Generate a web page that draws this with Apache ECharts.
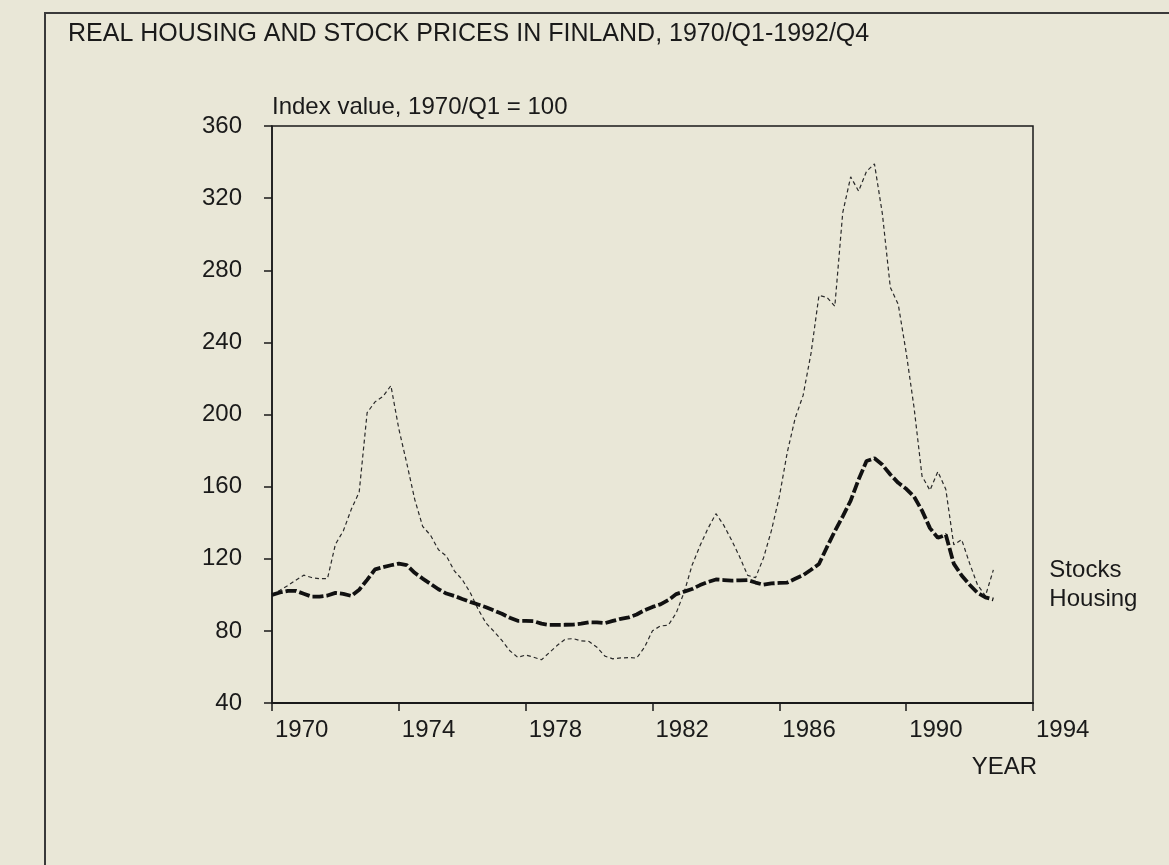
<!DOCTYPE html>
<html>
<head>
<meta charset="utf-8">
<title>Real housing and stock prices in Finland</title>
<script src="https://cdn.jsdelivr.net/npm/echarts@6/dist/echarts.min.js"></script>
<style>
  html, body { margin: 0; padding: 0; background: #e9e7d7; }
  #chart { width: 1169px; height: 865px; }
</style>
</head>
<body>
<div id="chart"></div>
<script>
// quarterly series, 1970/Q1 .. 1992/Q4 (index, 1970/Q1 = 100)
var startYear = 1970;
var yearTicks = [1970, 1974, 1978, 1982, 1986, 1990, 1994];
var valueTicks = [40, 80, 120, 160, 200, 240, 280, 320, 360];

var stocks = [
  100, 102.5, 105.1, 108.1, 110.9, 109.6, 108.9, 109, 128, 135.5,
  147.4, 157, 201, 207, 210, 216, 192, 173, 153, 138,
  133, 125, 121.5, 113.3, 108.4, 101.3, 92, 84.3, 79.7, 74.7,
  69, 65.3, 66.6, 65.4, 64, 68, 72, 75.4, 75.7, 74.5,
  74.1, 70.9, 66, 64.5, 65, 65.2, 64.9, 71, 80.1, 82.7,
  83.2, 90, 101.5, 116.5, 127.3, 136.8, 145, 138.5, 130.1, 121,
  110.8, 109.5, 120.4, 135.6, 154.4, 179, 198, 210.6, 234, 266,
  265, 260, 312, 331.8, 323.9, 334.9, 339, 311.3, 270.5, 261.1,
  234.4, 203.7, 165.8, 158, 168.3, 158.5, 127.8, 130.6, 117.5, 105.5,
  99.4, 113.8
];

var housing = [
  100, 101.3, 102.2, 102.2, 100.6, 99, 99, 99.6, 101.1, 100.5,
  99.4, 102.8, 108.3, 114.1, 115.3, 116.4, 117.3, 116.5, 112.2, 109,
  106.1, 103.1, 100.7, 99.4, 97.7, 96.1, 94.6, 93.1, 91.3, 89.5,
  87.3, 85.6, 85.6, 85.4, 84, 83.3, 83.3, 83.4, 83.5, 84,
  84.8, 84.7, 84.3, 85.5, 86.7, 87.5, 89.1, 91.5, 93.3, 94.7,
  97.1, 100.4, 101.8, 103.2, 105.4, 107.1, 108.5, 108.2, 107.9, 108,
  108.2, 106.8, 105.6, 106.3, 106.6, 106.8, 108.9, 110.9, 113.9, 117.1,
  126.4, 135.3, 143.5, 152.2, 164, 174.2, 175.7, 172.1, 166.7, 162.1,
  158.8, 154.4, 146.7, 137, 131.6, 133.3, 117.3, 110.7, 105.6, 101.1,
  98.6, 97.4
];

// pair each value with its quarter (year + (q-1)/4)
function toPoints(values) {
  return values.map(function (v, i) { return [startYear + i / 4, v]; });
}

var ink = '#1a1a1a';
var font = '"Liberation Sans", Arial, sans-serif';

var myChart = echarts.init(document.getElementById('chart'));

var option = {
  backgroundColor: '#e9e7d7',
  animation: false,
  title: {
    text: 'REAL HOUSING AND STOCK PRICES IN FINLAND, 1970/Q1-1992/Q4',
    left: 63,
    top: 17,
    textStyle: { fontFamily: font, fontSize: 25, fontWeight: 'normal', color: ink }
  },
  grid: {
    left: 272, right: 136, top: 126, bottom: 162,
    show: true,
    borderColor: ink,
    borderWidth: 1.5,
    backgroundColor: 'transparent'
  },
  xAxis: {
    type: 'value',
    min: yearTicks[0],
    max: yearTicks[yearTicks.length - 1],
    interval: 4,
    axisLine: { show: true, lineStyle: { color: ink, width: 2 } },
    axisTick: { show: true, length: 8, lineStyle: { color: ink, width: 1.5 } },
    splitLine: { show: false },
    axisLabel: {
      showMinLabel: true, showMaxLabel: true,
      align: 'left', margin: 15, padding: [0, 0, 0, 3],
      fontFamily: font, fontSize: 24, color: ink,
      formatter: function (v) { return String(v); }
    }
  },
  yAxis: {
    type: 'value',
    min: valueTicks[0],
    max: valueTicks[valueTicks.length - 1],
    interval: 40,
    name: 'Index value, 1970/Q1 = 100',
    nameLocation: 'end',
    nameGap: 19,
    nameTextStyle: { fontFamily: font, fontSize: 24, color: ink, align: 'left', verticalAlign: 'middle' },
    axisLine: { show: true, lineStyle: { color: ink, width: 1.5 } },
    axisTick: { show: true, length: 8, lineStyle: { color: ink, width: 1.5 } },
    splitLine: { show: false },
    axisLabel: { margin: 30, fontFamily: font, fontSize: 24, color: ink }
  },
  graphic: [
    {
      // outer frame of the figure
      type: 'polyline',
      shape: { points: [[45, 865], [45, 13], [1169, 13]] },
      style: { stroke: '#3a3a3a', lineWidth: 2, fill: null }
    },
    {
      type: 'text',
      right: 1169 - 1037,
      top: 755,
      style: { text: 'YEAR', font: '24px ' + font, fill: ink }
    }
  ],
  series: [
    {
      name: 'Stocks',
      type: 'line',
      data: toPoints(stocks),
      showSymbol: false,
      lineStyle: { color: '#2a2a2a', width: 1.2, type: [4, 3] },
      endLabel: {
        show: true, formatter: 'Stocks', distance: 56,
        fontFamily: font, fontSize: 24, color: ink
      }
    },
    {
      name: 'Housing',
      type: 'line',
      data: toPoints(housing),
      showSymbol: false,
      lineStyle: { color: '#111', width: 3.8, type: [11, 3] },
      endLabel: {
        show: true, formatter: 'Housing', distance: 56,
        fontFamily: font, fontSize: 24, color: ink
      }
    }
  ]
};

myChart.setOption(option);
window.addEventListener('resize', myChart.resize);
</script>
</body>
</html>
